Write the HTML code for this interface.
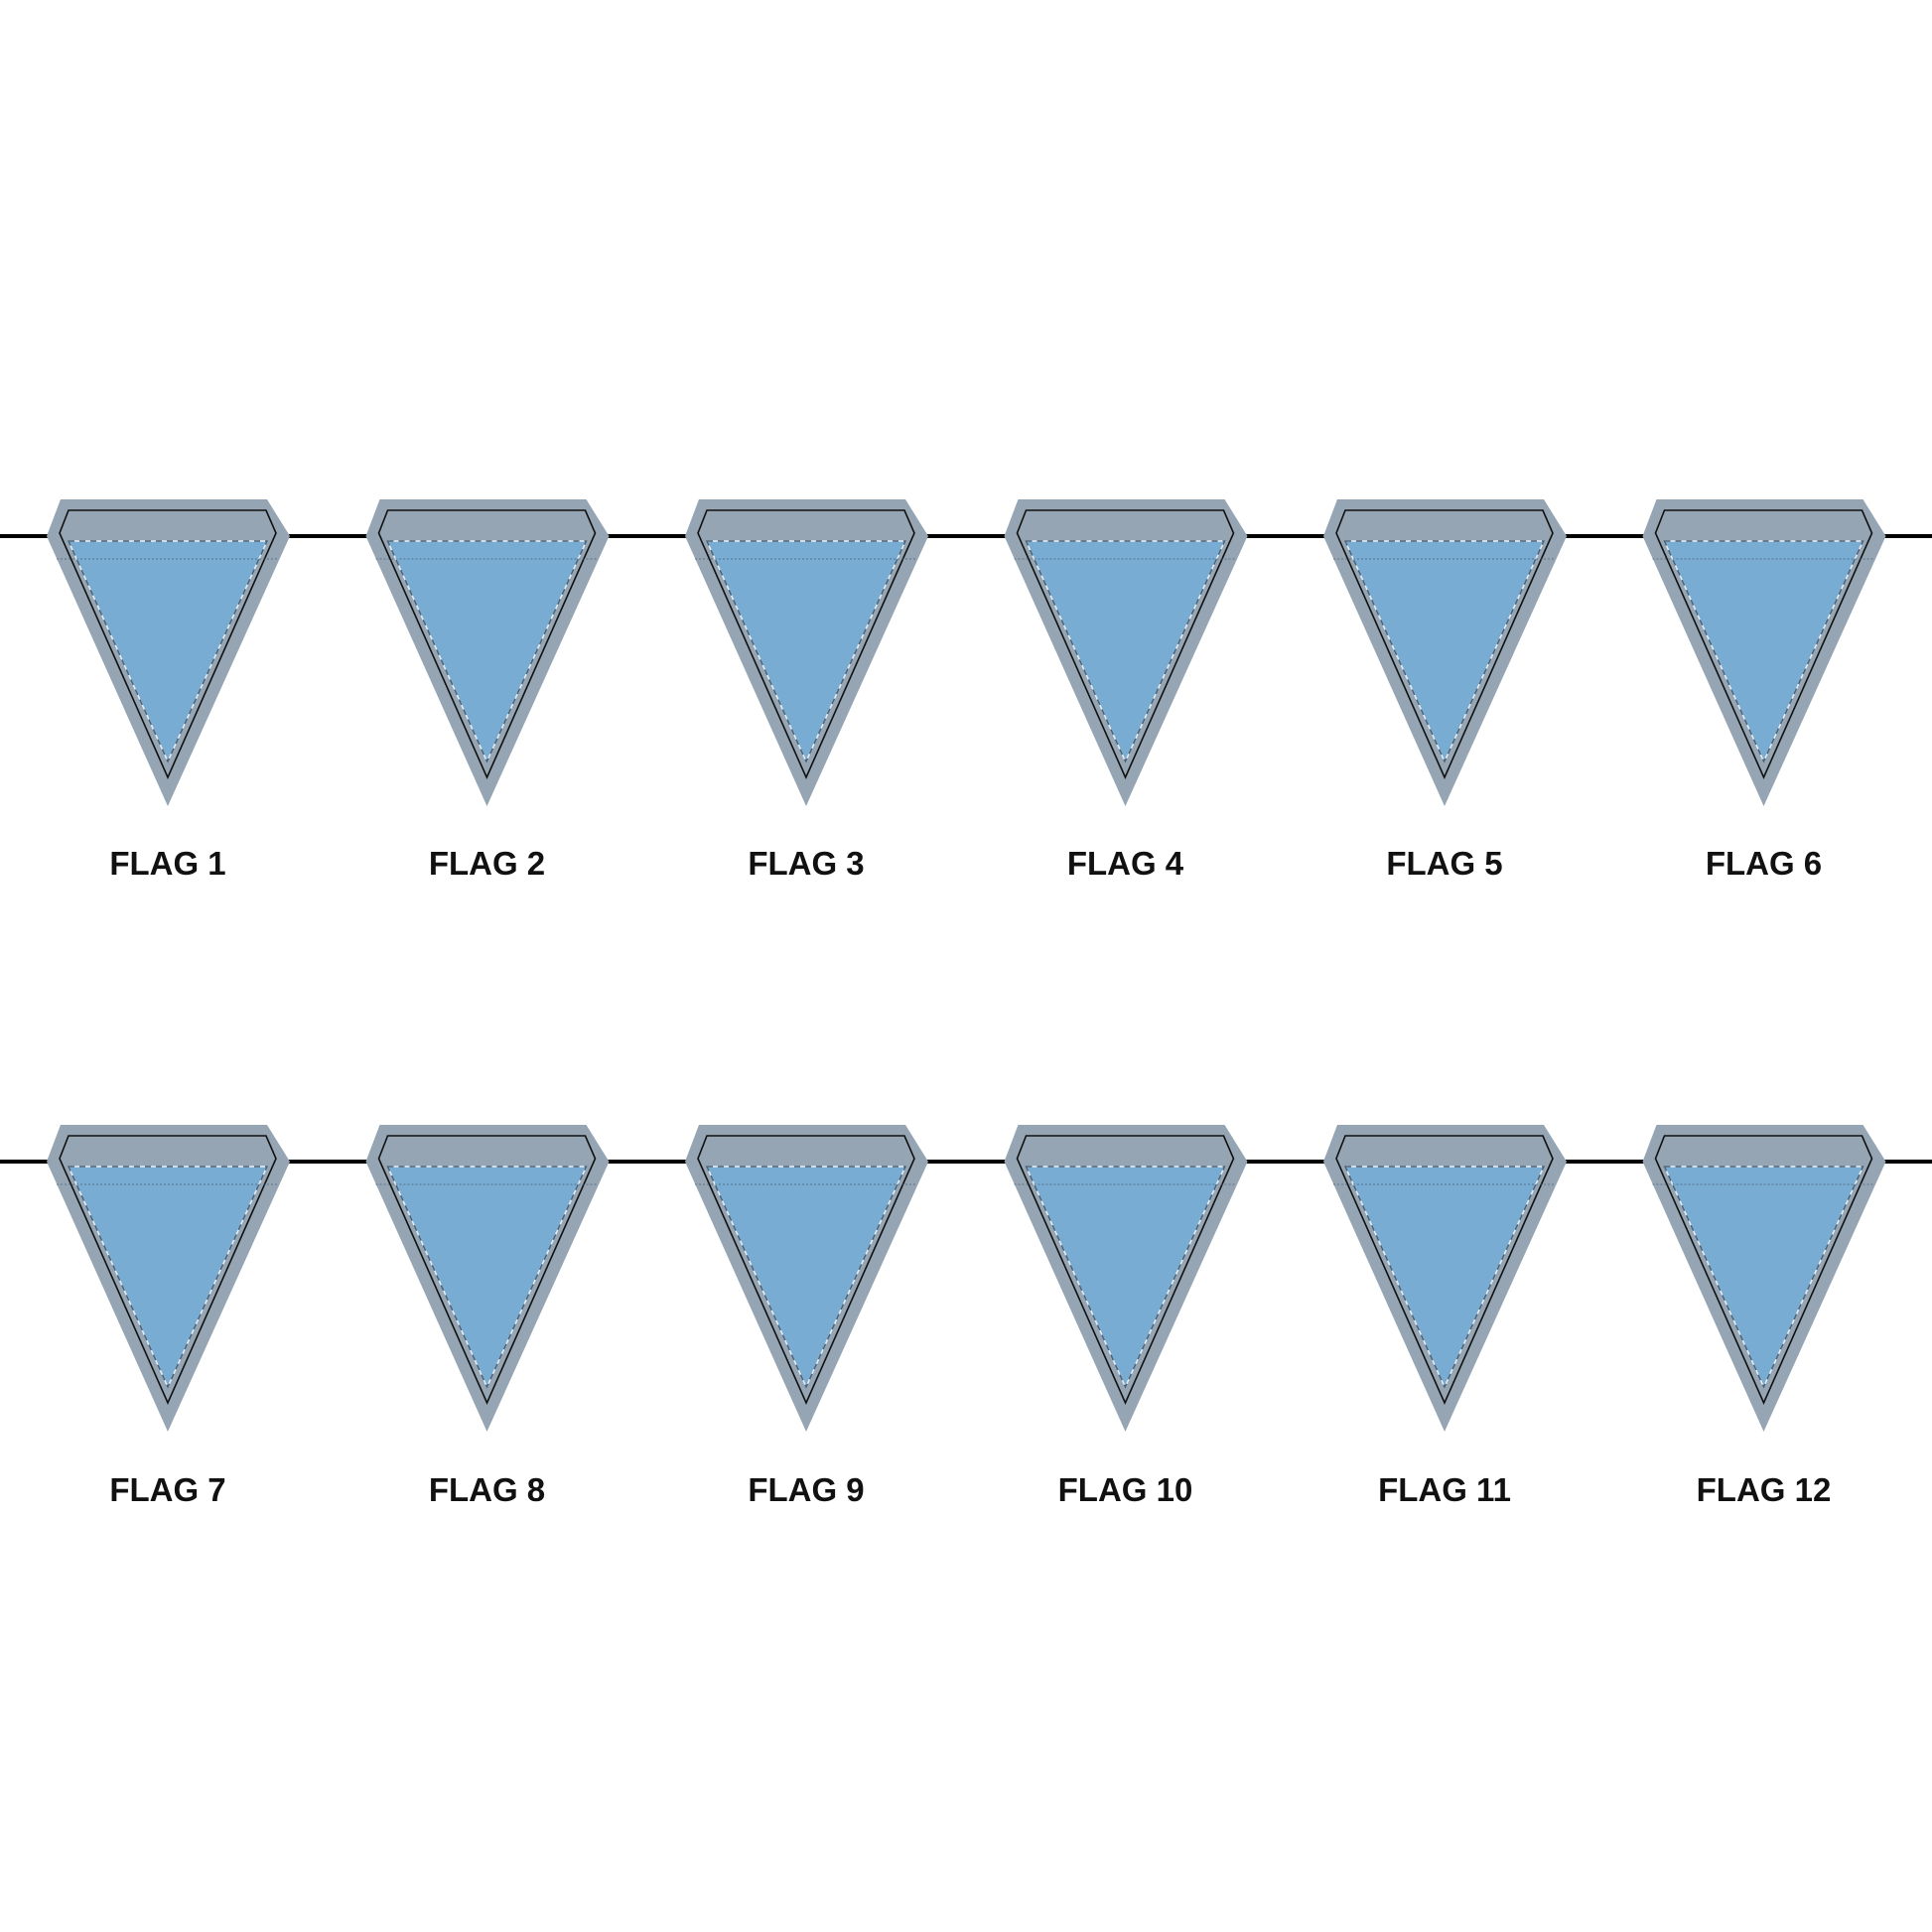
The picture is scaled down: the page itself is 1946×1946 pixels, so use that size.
<!DOCTYPE html>
<html><head><meta charset="utf-8"><style>
html,body{margin:0;padding:0;background:#fff;}
svg{display:block;}
text{font-family:"Liberation Sans",sans-serif;font-weight:bold;font-size:33px;fill:#111;}
</style></head><body>
<svg width="1946" height="1946" viewBox="0 0 1946 1946" xmlns="http://www.w3.org/2000/svg">
<defs>
<g id="flag">
<polygon points="-108,-37 100,-37 123,0 0,272 -122,0" fill="#95a5b3"/>
<polygon points="-100,-26 99,-26 109,-3 0,243 -109,-3" fill="none" stroke="#111" stroke-width="1.6"/>
<polygon points="-100,5 100,5 0,227" fill="#78acd3"/>
<polygon points="-100,5 100,5 0,227" fill="none" stroke="#e8eef4" stroke-width="1.5"/>
<polygon points="-100,5 100,5 0,227" fill="none" stroke="#4a6278" stroke-width="1.5" stroke-dasharray="6,5"/>
<line x1="-112" y1="23" x2="111" y2="23" stroke="#4a6278" stroke-width="0.8" stroke-dasharray="2,2"/>
</g>
</defs>
<rect width="1946" height="1946" fill="#fff"/>
<line x1="0" y1="540" x2="1946" y2="540" stroke="#000" stroke-width="4"/>
<line x1="0" y1="1170" x2="1946" y2="1170" stroke="#000" stroke-width="4"/>
<g transform="translate(169,540)"><use href="#flag"/></g>
<g transform="translate(490.5,540)"><use href="#flag"/></g>
<g transform="translate(812,540)"><use href="#flag"/></g>
<g transform="translate(1133.5,540)"><use href="#flag"/></g>
<g transform="translate(1455,540)"><use href="#flag"/></g>
<g transform="translate(1776.5,540)"><use href="#flag"/></g>
<g transform="translate(169,1170)"><use href="#flag"/></g>
<g transform="translate(490.5,1170)"><use href="#flag"/></g>
<g transform="translate(812,1170)"><use href="#flag"/></g>
<g transform="translate(1133.5,1170)"><use href="#flag"/></g>
<g transform="translate(1455,1170)"><use href="#flag"/></g>
<g transform="translate(1776.5,1170)"><use href="#flag"/></g>
<g text-anchor="middle">
<text x="169" y="881">FLAG 1</text>
<text x="490.5" y="881">FLAG 2</text>
<text x="812" y="881">FLAG 3</text>
<text x="1133.5" y="881">FLAG 4</text>
<text x="1455" y="881">FLAG 5</text>
<text x="1776.5" y="881">FLAG 6</text>
<text x="169" y="1512">FLAG 7</text>
<text x="490.5" y="1512">FLAG 8</text>
<text x="812" y="1512">FLAG 9</text>
<text x="1133.5" y="1512">FLAG 10</text>
<text x="1455" y="1512">FLAG 11</text>
<text x="1776.5" y="1512">FLAG 12</text>
</g>
</svg>
</body></html>
